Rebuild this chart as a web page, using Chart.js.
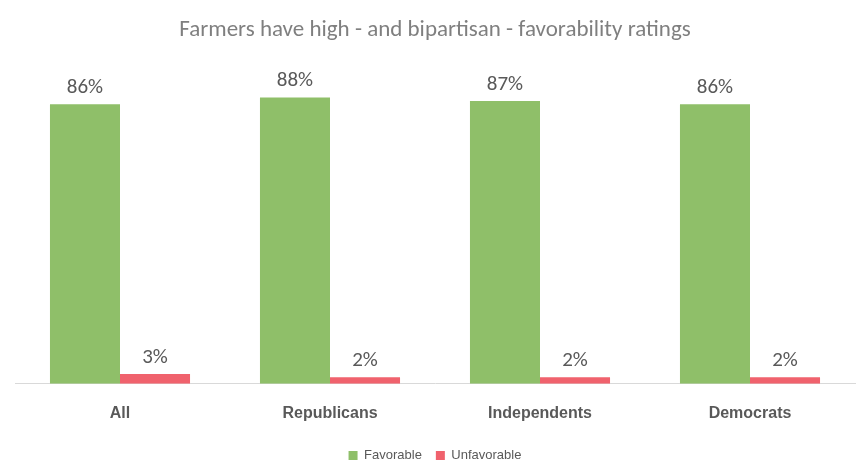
<!DOCTYPE html>
<html><head><meta charset="utf-8">
<script src="https://cdn.jsdelivr.net/npm/chart.js@4/dist/chart.umd.min.js"></script>
<style>html,body{margin:0;padding:0;background:#fff}#wrap{width:867px;height:472px}</style>
</head><body><div id="wrap"><canvas id="viz"></canvas></div>
<script>
var categories = ['All', 'Republicans', 'Independents', 'Democrats'];
var favorable = [86, 88, 87, 86];
var unfavorable = [3, 2, 2, 2];

var labelPlugin = {
  id: 'valueLabels',
  afterDatasetsDraw: function (chart) {
    var ctx = chart.ctx;
    ctx.save();
    ctx.font = '21px Calibri, Carlito, "Open Sans", sans-serif';
    ctx.fillStyle = '#595959';
    ctx.textAlign = 'center';
    ctx.textBaseline = 'bottom';
    chart.data.datasets.forEach(function (ds, i) {
      chart.getDatasetMeta(i).data.forEach(function (bar, j) {
        ctx.fillText(ds.data[j] + '%', bar.x, bar.y - 6);
      });
    });
    ctx.restore();
  }
};

new Chart(document.getElementById('viz').getContext('2d'), {
  type: 'bar',
  data: {
    labels: categories,
    datasets: [
      { label: 'Favorable', data: favorable, backgroundColor: '#8fbf69', categoryPercentage: 0.667, barPercentage: 1 },
      { label: 'Unfavorable', data: unfavorable, backgroundColor: '#f0626d', categoryPercentage: 0.667, barPercentage: 1 }
    ]
  },
  options: {
    responsive: true,
    maintainAspectRatio: false,
    animation: false,
    layout: { padding: { left: 15, right: 12, top: 0, bottom: 0 } },
    plugins: {
      title: {
        display: true,
        text: 'Farmers have high - and bipartisan - favorability ratings',
        color: '#7f7f7f',
        font: { size: 23, family: 'Calibri, Carlito, "Open Sans", sans-serif', weight: 'normal' },
        padding: { top: 16, bottom: 15 }
      },
      legend: {
        position: 'bottom',
        labels: { color: '#595959', boxWidth: 9, boxHeight: 9, font: { size: 13 }, padding: 14 }
      },
      tooltip: { enabled: false }
    },
    scales: {
      x: {
        grid: { display: false },
        border: { color: '#d9d9d9' },
        ticks: { color: '#595959', font: { size: 16, weight: 'bold' }, padding: 12 }
      },
      y: {
        min: 0, max: 100,
        display: false
      }
    }
  },
  plugins: [labelPlugin]
});
</script></body></html>
